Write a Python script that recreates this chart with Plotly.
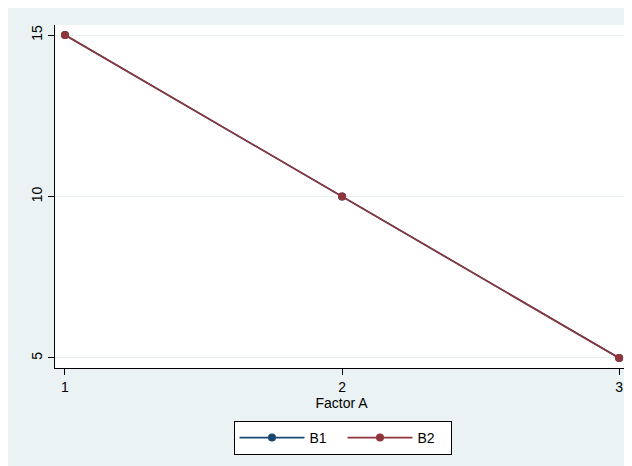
import plotly.graph_objects as go

factor_a = [1, 2, 3]
b1_values = [15, 10, 5]
b2_values = [15, 10, 5]
series_names = ["B1", "B2"]
y_ticks = [5, 10, 15]

# page body has an 8px margin; figure coordinates are screenshot - 8
W, H = 624, 458
L, R, T, B = 47, 620, 17, 360

BG = "#EAF2F3"
FONT = "Liberation Sans, Arial, sans-serif"

fig = go.Figure()
fig.add_trace(go.Scatter(x=factor_a, y=b1_values, name=series_names[0], mode="lines+markers",
                         line=dict(color="#1a476f", width=1.6),
                         marker=dict(color="#1a476f", size=8), cliponaxis=False))
fig.add_trace(go.Scatter(x=factor_a, y=b2_values, name=series_names[1], mode="lines+markers",
                         line=dict(color="#90353b", width=1.6),
                         marker=dict(color="#90353b", size=8), cliponaxis=False))

fig.update_layout(
    width=W, height=H,
    margin=dict(l=L, r=W - R, t=T, b=H - B, autoexpand=False),
    paper_bgcolor=BG, plot_bgcolor="white",
    font=dict(family=FONT, size=14, color="black"),
    showlegend=True,
    legend=dict(orientation="h", xref="container", yref="container",
                x=334.5 / W, xanchor="center", y=(H - 413) / H, yanchor="top",
                bgcolor="white", bordercolor="black", borderwidth=1,
                font=dict(size=14), itemwidth=65, entrywidth=28, entrywidthmode="pixels",
                tracegroupgap=0),
    xaxis=dict(range=[0.964, 3.032], tickvals=factor_a, ticktext=[str(v) for v in factor_a],
               showgrid=False, zeroline=False, showline=True, linecolor="black", linewidth=1,
               ticks="outside", ticklen=6, tickcolor="black", tickwidth=1, automargin=False,
               tickfont=dict(size=14),
               title=dict(text="Factor A", standoff=3, font=dict(size=14))),
    yaxis=dict(range=[4.69, 15.31], tickvals=y_ticks, ticktext=[str(v) for v in y_ticks],
               showgrid=True, gridcolor="#E8F0F1", gridwidth=1, automargin=False,
               zeroline=False, showline=True, linecolor="black", linewidth=1,
               ticks="outside", ticklen=6, tickcolor="black", tickwidth=1, tickangle=-90,
               tickfont=dict(size=14)),
)

fig.write_html("out.html")
